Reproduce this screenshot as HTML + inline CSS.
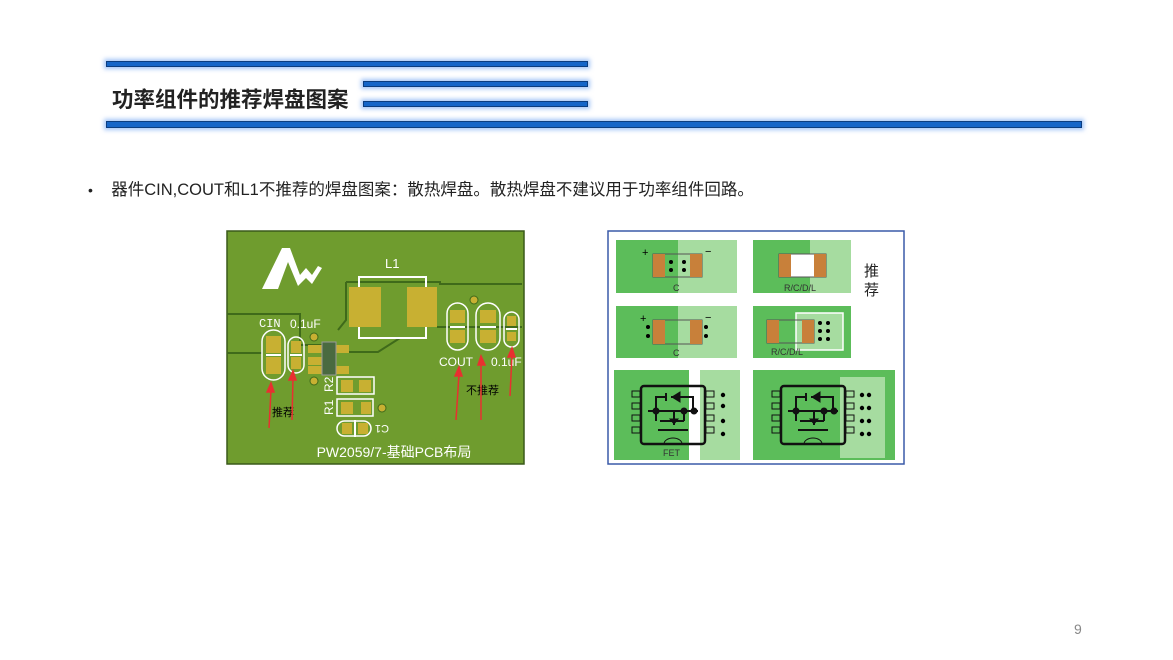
<!DOCTYPE html>
<html><head><meta charset="utf-8">
<style>
html,body{margin:0;padding:0;background:#fff;}
body{width:1173px;height:660px;position:relative;overflow:hidden;font-family:"Liberation Sans","Noto Sans CJK SC",sans-serif;}
.bar{position:absolute;background:#1565c8;border:1px solid #0b3d80;box-shadow:0 0 4px 2px rgba(90,150,240,0.55);}
.t{position:absolute;white-space:nowrap;}
</style></head><body>
<div class="bar" style="left:106px;top:61px;width:480px;height:4px"></div>
<div class="bar" style="left:363px;top:81px;width:223px;height:4px"></div>
<div class="bar" style="left:363px;top:101px;width:223px;height:4px"></div>
<div class="bar" style="left:106px;top:121px;width:974px;height:5px"></div>
<div class="t" style="left:112px;top:83px;font-size:21.5px;font-weight:bold;color:#222">功率组件的推荐焊盘图案</div>
<div class="t" style="left:88px;top:176px;font-size:16.5px;color:#222"><span style="font-size:14px">•</span>&nbsp;&nbsp;&nbsp;&nbsp;器件CIN,COUT和L1不推荐的焊盘图案：散热焊盘。散热焊盘不建议用于功率组件回路。</div>
<div class="t" style="left:1074px;top:621px;font-size:14px;color:#888">9</div>

<svg width="1173" height="660" style="position:absolute;left:0;top:0" xmlns="http://www.w3.org/2000/svg">
<rect x="227" y="231" width="297" height="233" fill="#6f9c2e" stroke="#3a5a1a" stroke-width="1.5"/>
<g fill="none" stroke="#3f6a1a" stroke-width="2">
<path d="M227 314 H 300 V 345 H 330"/>
<path d="M227 353 H 262"/>
<path d="M346 282 V 320 L 338 330"/>
<path d="M346 282 H 440 V 284 H 522"/>
<path d="M400 338 L 378 352 H 340"/>
<path d="M437 327 H 522"/>
</g>
<path d="M262 289 L 282 248 L 290 248 L 300 275 L 306 268 L 312 275 L 318 266 L 322 268 L 312 284 L 306 278 L 298 286 L 288 262 L 278 289 Z" fill="#fff"/>
<text x="385" y="268" font-size="13" fill="#fff">L1</text>
<rect x="359" y="277" width="67" height="61" fill="none" stroke="#fff" stroke-width="2"/>
<rect x="349" y="287" width="32" height="40" fill="#c8b032"/>
<rect x="407" y="287" width="30" height="40" fill="#c8b032"/>
<circle cx="474" cy="300" r="4" fill="#c8b032" stroke="#3f6a1a"/>
<circle cx="314" cy="337" r="4" fill="#c8b032" stroke="#3f6a1a"/>
<circle cx="314" cy="381" r="4" fill="#c8b032" stroke="#3f6a1a"/>
<circle cx="382" cy="408" r="4" fill="#c8b032" stroke="#3f6a1a"/>
<text x="259" y="327" font-size="12" fill="#fff" font-family="Liberation Mono">CIN</text>
<text x="290" y="328" font-size="12" fill="#fff">0.1uF</text>
<rect x="262" y="330" width="23" height="50" rx="11.5" fill="none" stroke="#fff" stroke-width="1.5"/>
<rect x="266" y="336" width="15" height="17" fill="#c8b032"/><rect x="266" y="357" width="15" height="17" fill="#c8b032"/>
<rect x="266" y="354" width="15" height="2" fill="#fff"/>
<rect x="288" y="337" width="16" height="36" rx="8" fill="none" stroke="#fff" stroke-width="1.5"/>
<rect x="291" y="341" width="10" height="12" fill="#c8b032"/><rect x="291" y="357" width="10" height="12" fill="#c8b032"/>
<rect x="290" y="354" width="12" height="2" fill="#fff"/>
<rect x="308" y="345" width="15" height="8" fill="#c8b032"/><rect x="308" y="357" width="15" height="8" fill="#c8b032"/><rect x="308" y="366" width="15" height="8" fill="#c8b032"/>
<rect x="334" y="345" width="15" height="8" fill="#c8b032"/><rect x="334" y="366" width="15" height="8" fill="#c8b032"/>
<rect x="322" y="342" width="14" height="33" fill="#4a6a40" stroke="#999" stroke-width="1"/>
<rect x="337" y="377" width="37" height="17" fill="none" stroke="#fff" stroke-width="1.5"/>
<rect x="341" y="380" width="12" height="12" fill="#c8b032"/><rect x="359" y="380" width="12" height="12" fill="#c8b032"/>
<rect x="337" y="399" width="36" height="17" fill="none" stroke="#fff" stroke-width="1.5"/>
<rect x="341" y="402" width="12" height="12" fill="#c8b032"/><rect x="361" y="402" width="10" height="12" fill="#c8b032"/>
<rect x="337" y="421" width="34" height="15" rx="7.5" fill="none" stroke="#fff" stroke-width="1.5"/>
<rect x="342" y="423" width="10" height="11" fill="#c8b032"/><rect x="358" y="423" width="10" height="11" fill="#c8b032"/>
<rect x="354" y="420" width="2" height="17" fill="#fff"/>
<text transform="translate(333,392) rotate(-90)" font-size="12" fill="#fff">R2</text>
<text transform="translate(333,415) rotate(-90)" font-size="12" fill="#fff">R1</text>
<text transform="translate(389,425) rotate(180)" font-size="11" fill="#fff">C1</text>
<g fill="none" stroke="#fff" stroke-width="1.5">
<rect x="447" y="303" width="21" height="47" rx="10.5"/><rect x="476" y="303" width="24" height="47" rx="12"/><rect x="504" y="312" width="15" height="35" rx="7.5"/>
</g>
<rect x="450" y="310" width="15" height="13" fill="#c8b032"/><rect x="450" y="330" width="15" height="13" fill="#c8b032"/>
<rect x="480" y="310" width="16" height="13" fill="#c8b032"/><rect x="480" y="330" width="16" height="13" fill="#c8b032"/>
<rect x="507" y="316" width="9" height="10" fill="#c8b032"/><rect x="507" y="332" width="9" height="9" fill="#c8b032"/>
<rect x="450" y="326" width="15" height="2" fill="#fff"/><rect x="480" y="326" width="16" height="2" fill="#fff"/><rect x="506" y="328" width="11" height="2" fill="#fff"/>
<text x="439" y="366" font-size="12" fill="#fff">COUT</text>
<text x="491" y="366" font-size="12" fill="#fff">0.1uF</text>
<text x="466" y="394" font-size="11" fill="#000" font-family="Liberation Sans,Noto Sans CJK SC,sans-serif">不推荐</text>
<text x="272" y="416" font-size="11" fill="#000" font-family="Liberation Sans,Noto Sans CJK SC,sans-serif">推荐</text>
<g stroke="#e83030" stroke-width="1.5" fill="#e83030">
<line x1="269" y1="428" x2="271" y2="390"/><path d="M267 392 L271 383 L274 392Z"/>
<line x1="292" y1="420" x2="293" y2="378"/><path d="M289 380 L293 371 L296 380Z"/>
<line x1="456" y1="420" x2="459" y2="374"/><path d="M455 376 L459 367 L462 376Z"/>
<line x1="481" y1="420" x2="481" y2="363"/><path d="M478 365 L481 356 L485 365Z"/>
<line x1="510" y1="396" x2="512" y2="355"/><path d="M508 357 L512 348 L515 357Z"/>
</g>
<text x="394" y="457" font-size="14" fill="#fff" text-anchor="middle" font-family="Liberation Sans,Noto Sans CJK SC,sans-serif">PW2059/7-基础PCB布局</text>

<rect x="608" y="231" width="296" height="233" fill="#fff" stroke="#3a5aa8" stroke-width="1.5"/>
<g>
<rect x="616" y="240" width="62" height="53" fill="#5cbd5a"/><rect x="678" y="240" width="59" height="53" fill="#a6dca0"/>
<rect x="653" y="254" width="49" height="23" fill="none" stroke="#555"/><rect x="653" y="254" width="12" height="23" fill="#c8803a"/><rect x="690" y="254" width="12" height="23" fill="#c8803a"/>
<g fill="#000"><circle cx="671" cy="262" r="2"/><circle cx="671" cy="270" r="2"/><circle cx="684" cy="262" r="2"/><circle cx="684" cy="270" r="2"/></g>
<text x="642" y="256" font-size="11">+</text><text x="705" y="255" font-size="11">−</text>
<text x="673" y="291" font-size="9" fill="#333">C</text>

<rect x="753" y="240" width="57" height="53" fill="#5cbd5a"/><rect x="810" y="240" width="41" height="53" fill="#a6dca0"/>
<rect x="779" y="254" width="47" height="23" fill="#fff" stroke="#555"/><rect x="779" y="254" width="12" height="23" fill="#c8803a"/><rect x="814" y="254" width="12" height="23" fill="#c8803a"/>
<text x="784" y="291" font-size="9" fill="#333">R/C/D/L</text>
<text x="864" y="276" font-size="15" fill="#222" font-family="Liberation Sans,Noto Sans CJK SC,sans-serif">推</text>
<text x="864" y="295" font-size="15" fill="#222" font-family="Liberation Sans,Noto Sans CJK SC,sans-serif">荐</text>

<rect x="616" y="306" width="62" height="52" fill="#5cbd5a"/><rect x="678" y="306" width="59" height="52" fill="#a6dca0"/>
<rect x="653" y="320" width="49" height="24" fill="none" stroke="#555"/><rect x="653" y="320" width="12" height="24" fill="#c8803a"/><rect x="690" y="320" width="12" height="24" fill="#c8803a"/>
<g fill="#000"><circle cx="648" cy="327" r="2"/><circle cx="648" cy="336" r="2"/><circle cx="706" cy="327" r="2"/><circle cx="706" cy="336" r="2"/></g>
<text x="640" y="322" font-size="11">+</text><text x="705" y="321" font-size="11">−</text>
<text x="673" y="356" font-size="9" fill="#333">C</text>

<rect x="753" y="306" width="98" height="52" fill="#5cbd5a"/><rect x="796" y="313" width="47" height="37" fill="#a6dca0" stroke="#fff" stroke-width="1.5"/>
<rect x="767" y="320" width="47" height="23" fill="none" stroke="#555"/><rect x="767" y="320" width="12" height="23" fill="#c8803a"/><rect x="802" y="320" width="12" height="23" fill="#c8803a"/>
<g fill="#000"><circle cx="820" cy="323" r="2"/><circle cx="828" cy="323" r="2"/><circle cx="820" cy="331" r="2"/><circle cx="828" cy="331" r="2"/><circle cx="820" cy="339" r="2"/><circle cx="828" cy="339" r="2"/></g>
<text x="771" y="355" font-size="9" fill="#333">R/C/D/L</text>

<rect x="614" y="370" width="75" height="90" fill="#5cbd5a"/><rect x="700" y="370" width="40" height="90" fill="#a6dca0"/>
<rect x="753" y="370" width="142" height="90" fill="#5cbd5a"/><rect x="840" y="377" width="45" height="81" fill="#a6dca0"/>
<g id="fet" fill="none" stroke="#111">
<rect x="641" y="386" width="64" height="58" rx="3" stroke-width="2.5"/>
<g stroke-width="1"><rect x="632" y="391" width="8" height="6"/><rect x="632" y="403" width="8" height="6"/><rect x="632" y="415" width="8" height="6"/><rect x="632" y="427" width="8" height="6"/>
<rect x="706" y="391" width="8" height="6"/><rect x="706" y="403" width="8" height="6"/><rect x="706" y="415" width="8" height="6"/><rect x="706" y="427" width="8" height="6"/></g>
<path d="M648 411 H 656 V 397 H 666 M 666 393 V 401 M 671 397 H 693 V 411 M 654 411 H 698 M 656 411 V 421 M 660 421 H 684 M 674 411 V 425 M 684 411 V 421 M 658 430 H 688" stroke-width="2"/>
<path d="M672 397 L 680 392 V 402 Z" fill="#111"/>
<path d="M670 419 H 678 L 674 424 Z" fill="#111"/>
<g fill="#111"><circle cx="656" cy="411" r="3"/><circle cx="684" cy="411" r="3"/><circle cx="694" cy="411" r="3"/></g>
<path d="M664 444 A 9 6 0 0 1 682 444" stroke-width="1"/>
</g>
<use href="#fet" x="140"/>
<g fill="#000"><circle cx="723" cy="395" r="2.2"/><circle cx="723" cy="406" r="2.2"/><circle cx="723" cy="421" r="2.2"/><circle cx="723" cy="434" r="2.2"/>
<circle cx="862" cy="395" r="2.2"/><circle cx="869" cy="395" r="2.2"/><circle cx="862" cy="408" r="2.2"/><circle cx="869" cy="408" r="2.2"/><circle cx="862" cy="421" r="2.2"/><circle cx="869" cy="421" r="2.2"/><circle cx="862" cy="434" r="2.2"/><circle cx="869" cy="434" r="2.2"/></g>
<text x="663" y="456" font-size="9" fill="#333">FET</text>
</g>
</svg>
</body></html>
